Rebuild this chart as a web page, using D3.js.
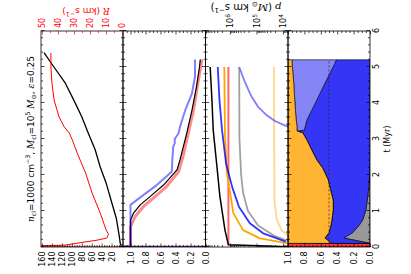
<!DOCTYPE html>
<html>
<head>
<meta charset="utf-8">
<script src="https://cdn.jsdelivr.net/npm/d3@7"></script>
<style>
  body { margin: 0; background: #fff; }
  text { font-family: "DejaVu Sans", sans-serif; }
</style>
</head>
<body>
<svg id="chart" width="411" height="274"></svg>
<script>
// ---- panel 1: cloud radius (black, left axis) and shell velocity R (red, right axis)
const t1Black = [0, 0.1, 0.3, 0.8, 1.3, 1.78, 2.23, 2.7, 3.17, 3.62, 4.08, 4.55, 5.0, 5.4];
const radius1 = [0, 2.5, 4.5, 10.5, 21, 31, 43, 53, 67, 80, 96, 113, 136, 156];
const t1Red = [0, 0.005, 0.05, 0.12, 0.19, 0.25, 0.35, 0.47, 0.94, 1.5, 2.06, 2.61, 2.97, 3.17, 3.33, 3.61, 4.08, 4.56, 5.0, 5.39];
const vel1 = [0, 80, 36, 26, 15.6, 9.5, 8.5, 9.9, 13.6, 18.7, 22.8, 28, 31, 33, 36, 39.3, 42.4, 43.8, 44.4, 44.4];

// ---- panel 2: normalised fractions
const t2Black = [0, 0.005, 0.02, 0.75, 0.94, 1.17, 1.4, 1.72, 2.14, 2.42, 3.16, 3.8, 4.45, 5.0, 5.21];
const frac2Black = [0, 1.15, 1.0, 1.0, 0.96, 0.87, 0.74, 0.56, 0.38, 0.34, 0.25, 0.18, 0.12, 0.08, 0.07];
const t2Red = [0, 0.005, 0.02, 0.56, 0.84, 1.12, 1.35, 1.68, 2.09, 2.51, 3.16, 3.8, 4.45, 5.0, 5.21];
const frac2Red = [0, 1.15, 1.0, 1.0, 0.94, 0.83, 0.7, 0.52, 0.36, 0.30, 0.23, 0.16, 0.11, 0.064, 0.05];
const t2Blue = [0, 0.005, 0.02, 1.17, 1.44, 1.72, 2.09, 2.5, 2.79, 2.88, 3.0, 3.16, 3.34, 3.8, 4.27, 4.73, 5.21];
const frac2Blue = [0, 1.15, 1.0, 1.0, 0.83, 0.65, 0.45, 0.44, 0.43, 0.41, 0.41, 0.36, 0.34, 0.27, 0.18, 0.14, 0.14];

// ---- panel 3: momentum (Msun km/s), log axis
const t3Total = [0, 0.06, 0.47, 1.4, 2.32, 3.25, 4.08, 5.0];
const p3Total = [3e3, 1.15e6, 1.55e6, 2.4e6, 3.2e6, 4.3e6, 4.8e6, 5.6e6];
const t3Red = [0.05, 5.0];
const p3Red = [1.15e6, 1.15e6];
const t3Orange = [0.1, 0.24, 0.47, 0.94, 1.67, 2.06, 3.16, 5.0];
const p3Orange = [6.5e3, 7.4e4, 3.2e5, 7.5e5, 1.07e6, 1.32e6, 1.55e6, 1.64e6];
const t3Blue = [0.15, 0.38, 0.66, 1.12, 1.67, 2.32, 3.25, 4.08, 5.0];
const p3Blue = [7.8e3, 5.6e4, 1.78e5, 4.6e5, 8.3e5, 1.41e6, 2.0e6, 2.5e6, 2.9e6];
const t3Gray = [0.15, 0.3, 0.6, 1.0, 1.5, 2.0, 3.0, 5.0];
const p3Gray = [5.4e3, 2.0e4, 8.7e4, 2.1e5, 3.2e5, 3.8e5, 4.4e5, 4.5e5];
const t3LightOrange = [0.3, 0.47, 0.75, 1.0, 1.3, 5.0];
const p3LightOrange = [6.3e3, 1.12e4, 1.7e4, 1.9e4, 2.1e4, 2.2e4];
const t3LightBlue = [3.3, 3.4, 3.5, 3.65, 3.9, 4.2, 4.6, 5.0];
const p3LightBlue = [5.0e3, 1.0e4, 2.0e4, 4.0e4, 8.9e4, 1.6e5, 2.8e5, 4.5e5];

// ---- panel 4: stacked fractions
const t4 = [0, 0.1, 0.101, 0.25, 0.4, 0.61, 0.75, 1.03, 1.3, 1.67, 1.86, 2.06, 2.2, 2.42, 2.69, 2.97, 3.17, 3.22, 3.25, 3.34, 3.53, 3.8, 4.17, 4.55, 4.82, 5.1, 5.2];
const f4Red = [1, 1, 0, 0, 0, 0, 0, 0, 0, 0, 0, 0, 0, 0, 0, 0, 0, 0, 0, 0, 0, 0, 0, 0, 0, 0, 0];
const f4Gray = [0, 0, 0, 0.32, 0.21, 0.13, 0.09, 0.05, 0.033, 0.015, 0.009, 0.004, 0.002, 0, 0, 0, 0, 0, 0, 0, 0, 0, 0, 0, 0, 0, 0];
const f4Blue = [0, 0, 0.47, 0.23, 0.29, 0.346, 0.375, 0.40, 0.417, 0.475, 0.501, 0.546, 0.578, 0.65, 0.71, 0.77, 0.82, 0.88, 0.80, 0.79, 0.77, 0.71, 0.63, 0.55, 0.49, 0.43, 0.41];
const f4LightBlue = [0, 0, 0, 0, 0, 0, 0, 0, 0, 0, 0, 0, 0, 0, 0, 0, 0, 0.01, 0.09, 0.10, 0.13, 0.20, 0.29, 0.38, 0.45, 0.52, 0.54];
const f4Orange = [0, 0, 0.53, 0.45, 0.50, 0.524, 0.535, 0.55, 0.55, 0.51, 0.49, 0.45, 0.42, 0.35, 0.29, 0.23, 0.18, 0.11, 0.11, 0.11, 0.10, 0.09, 0.08, 0.07, 0.06, 0.05, 0.05];
const t4Dash = [0.1, 5.2];
const f4Dash = [0.5, 0.5];

const SERIF = "DejaVu Serif";

const svg = d3.select("#chart");
// the figure is laid out upright, then turned a quarter turn anticlockwise
const fig = svg.append("g").attr("transform", "translate(0,274) rotate(-90)");

const x = d3.scaleLinear().domain([0, 6]).range([27, 243]);
const panels = [
  { top: 41, bottom: 123 },
  { top: 123, bottom: 205.5 },
  { top: 205.5, bottom: 288 },
  { top: 288, bottom: 370 }
];

const y1 = d3.scaleLinear().domain([-3, 162]).range([123, 41]);
const r1 = d3.scaleLinear().domain([-0.6, 50.6]).range([123, 41]);
const y2 = d3.scaleLinear().domain([0, 1.1]).range([205.5, 123]);
const y3 = d3.scaleLog().domain([6.47e3, 8.41e6]).range([288, 205.5]);
const y4 = d3.scaleLinear().domain([0, 1]).range([370, 288]);

// clip paths so lines that run off scale are cut at the frame
const defs = svg.append("defs");
panels.forEach((p, i) => {
  defs.append("clipPath").attr("id", "clip" + i)
    .append("rect")
    .attr("x", 27).attr("y", p.top)
    .attr("width", 216).attr("height", p.bottom - p.top);
});

function pts(ts, vs) { return ts.map((t, i) => [t, vs[i]]); }

function drawLine(panel, ts, vs, yScale, color, width, opacity) {
  const line = d3.line().x(d => x(d[0])).y(d => yScale(d[1]));
  fig.append("path")
    .attr("clip-path", `url(#clip${panel})`)
    .attr("d", line(pts(ts, vs)))
    .attr("fill", "none")
    .attr("stroke", color)
    .attr("stroke-width", width)
    .attr("stroke-opacity", opacity || 1)
    .attr("stroke-linejoin", "round");
}

// ---- panel 4 stack (drawn first, under everything)
const rows = t4.map((t, i) => ({
  t, red: f4Red[i], gray: f4Gray[i], blue: f4Blue[i], lightblue: f4LightBlue[i], orange: f4Orange[i]
}));
const layerColors = { red: "#ff3636", gray: "#999999", blue: "#3535f5", lightblue: "#8585f8", orange: "#ffb433" };
const stack = d3.stack().keys(["red", "gray", "blue", "lightblue", "orange"]);
const area = d3.area().x(d => x(d.data.t)).y0(d => y4(d[0])).y1(d => y4(d[1]));
fig.append("g").attr("clip-path", "url(#clip3)")
  .selectAll("path").data(stack(rows)).join("path")
  .attr("d", area)
  .attr("fill", d => layerColors[d.key])
  .attr("stroke", "#000")
  .attr("stroke-width", 0.6);
fig.append("path")
  .attr("d", d3.line().x(d => x(d[0])).y(d => y4(d[1]))(pts(t4Dash, f4Dash)))
  .attr("stroke", "#222").attr("stroke-width", 0.7)
  .attr("stroke-dasharray", "2,2").attr("fill", "none");

// ---- panel 1
drawLine(0, t1Black, radius1, y1, "#000", 1.3);
drawLine(0, t1Red, vel1, r1, "#ff0000", 1);

// ---- panel 2
drawLine(1, t2Red, frac2Red, y2, "#ff0000", 3, 0.45);
drawLine(1, t2Black, frac2Black, y2, "#000", 1.2);
drawLine(1, t2Blue, frac2Blue, y2, "#0000ff", 2, 0.5);

// ---- panel 3
drawLine(2, t3LightOrange, p3LightOrange, y3, "#ffa500", 1.8, 0.45);
drawLine(2, t3LightBlue, p3LightBlue, y3, "#0000ff", 1.8, 0.5);
drawLine(2, t3Gray, p3Gray, y3, "#808080", 1.8, 0.75);
drawLine(2, t3Red, p3Red, y3, "#ff0000", 2, 0.6);
drawLine(2, t3Orange, p3Orange, y3, "#ffa500", 1.8);
drawLine(2, t3Blue, p3Blue, y3, "#0000ff", 1.8, 0.8);
drawLine(2, t3Total, p3Total, y3, "#000", 1.5);

// ---- frames and ticks
const noLabel = () => "";
function addAxis(axis, translate, color) {
  const g = fig.append("g").attr("transform", translate).call(axis);
  g.select(".domain").remove();
  g.attr("font-size", 8).attr("font-family", "DejaVu Sans");
  g.selectAll("line").attr("stroke", color || "#000").attr("stroke-width", 0.7);
  g.selectAll("text").attr("fill", color || "#000");
  return g;
}

const tMajor = d3.range(0, 7);
const tMinor = d3.range(0, 6.01, 0.2).filter(v => Math.abs(v - Math.round(v)) > 0.01);
panels.forEach((p, i) => {
  fig.append("rect")
    .attr("x", 27).attr("y", p.top)
    .attr("width", 216).attr("height", p.bottom - p.top)
    .attr("fill", "none").attr("stroke", "#000").attr("stroke-width", 0.8);
  addAxis(d3.axisTop(x).tickValues(tMajor).tickSize(-3.5).tickFormat(noLabel), `translate(0,${p.top})`);
  addAxis(d3.axisTop(x).tickValues(tMinor).tickSize(-2).tickFormat(noLabel), `translate(0,${p.top})`);
  const bottomFmt = i === 3 ? d3.format("d") : noLabel;
  addAxis(d3.axisBottom(x).tickValues(tMajor).tickSize(-3.5).tickPadding(3.5).tickFormat(bottomFmt), `translate(0,${p.bottom})`);
  addAxis(d3.axisBottom(x).tickValues(tMinor).tickSize(-2).tickFormat(noLabel), `translate(0,${p.bottom})`);
});

function valueAxes(scale, major, minor, leftFmt, mirror) {
  addAxis(d3.axisLeft(scale).tickValues(major).tickSize(-3.5).tickPadding(4.5).tickFormat(leftFmt), "translate(27,0)");
  addAxis(d3.axisLeft(scale).tickValues(minor).tickSize(-2).tickFormat(noLabel), "translate(27,0)");
  if (mirror) {
    addAxis(d3.axisRight(scale).tickValues(major).tickSize(-3.5).tickFormat(noLabel), "translate(243,0)");
    addAxis(d3.axisRight(scale).tickValues(minor).tickSize(-2).tickFormat(noLabel), "translate(243,0)");
  }
}

// panel 1 left: radius
valueAxes(y1, d3.range(0, 161, 20), d3.range(5, 160, 5).filter(v => v % 20), d => d === 0 ? "" : d, false);
// panel 1 right: R in red
addAxis(d3.axisRight(r1).tickValues(d3.range(0, 51, 10)).tickSize(-3.5).tickPadding(3).tickFormat(d3.format("d")), "translate(243,0)", "#ff0000");
addAxis(d3.axisRight(r1).tickValues(d3.range(5, 50, 10)).tickSize(-2).tickFormat(noLabel), "translate(243,0)", "#ff0000");
// panel 2
valueAxes(y2, d3.range(0, 1.01, 0.2), d3.range(0.05, 1.1, 0.05).filter(v => Math.abs(v * 5 - Math.round(v * 5)) > 0.01), d3.format(".1f"), true);
// panel 3: log momentum, labels on the right
const logMajor = [1e4, 1e5, 1e6];
const logMinor = [];
[1e3, 1e4, 1e5, 1e6].forEach(dec => d3.range(2, 10).forEach(k => {
  const v = k * dec;
  if (v > 6.5e3 && v < 8.4e6) logMinor.push(v);
}));
addAxis(d3.axisLeft(y3).tickValues(logMajor).tickSize(-3.5).tickFormat(noLabel), "translate(27,0)");
addAxis(d3.axisLeft(y3).tickValues(logMinor).tickSize(-2).tickFormat(noLabel), "translate(27,0)");
const logAxis = addAxis(d3.axisRight(y3).tickValues(logMajor).tickSize(-3.5).tickPadding(3).tickFormat(noLabel), "translate(243,0)");
logAxis.selectAll(".tick text").each(function (d) {
  const t = d3.select(this);
  t.append("tspan").text("10");
  t.append("tspan").attr("dy", -3).attr("font-size", 6).text(Math.round(Math.log10(d)));
});
addAxis(d3.axisRight(y3).tickValues(logMinor).tickSize(-2).tickFormat(noLabel), "translate(243,0)");
// panel 4
valueAxes(y4, d3.range(0, 1.01, 0.2), d3.range(0.05, 1, 0.05).filter(v => Math.abs(v * 5 - Math.round(v * 5)) > 0.01), d3.format(".1f"), true);

// ---- text with sub/superscripts
function rich(sel, parts, size) {
  let shift = 0;
  parts.forEach(([str, kind]) => {
    const s = kind === "sub" ? size * 0.25 : kind === "sup" ? -size * 0.4 : 0;
    const ts = sel.append("tspan").attr("dy", s - shift).text(str);
    shift = s;
    if (kind === "sub" || kind === "sup") ts.attr("font-size", size * 0.7);
    if (kind === "it") ts.attr("font-family", SERIF).attr("font-style", "italic");
  });
}

const title = fig.append("text")
  .attr("x", 135).attr("y", 34)
  .attr("text-anchor", "middle").attr("font-size", 9);
rich(title, [["n", "it"], ["cl", "sub"], ["=1000 cm", ""], ["−3", "sup"], [", ", ""], ["M", "it"], ["cl", "sub"],
  ["=10", ""], ["5", "sup"], [" ", ""], ["M", "it"], ["⊙", "sub"], [", ", ""], ["ε", "it"], ["=0.25", ""]], 9);

const rLabel = fig.append("text")
  .attr("transform", "translate(266,86) rotate(-90)")
  .attr("text-anchor", "middle").attr("font-size", 9)
  .attr("font-family", SERIF).attr("fill", "#ff0000");
rich(rLabel, [["R", "it"], [" (km s", ""], ["−1", "sup"], [")", ""]], 9);

const pLabel = fig.append("text")
  .attr("transform", "translate(270,246) rotate(-90)")
  .attr("text-anchor", "middle").attr("font-size", 10)
  .attr("font-family", SERIF);
rich(pLabel, [["p", "it"], [" (", ""], ["M", "it"], ["⊙", "sub"], [" km s", ""], ["−1", "sup"], [")", ""]], 10);

fig.append("text")
  .attr("x", 135).attr("y", 389.5)
  .attr("text-anchor", "middle").attr("font-size", 8)
  .text("t (Myr)");
</script>
</body>
</html>
